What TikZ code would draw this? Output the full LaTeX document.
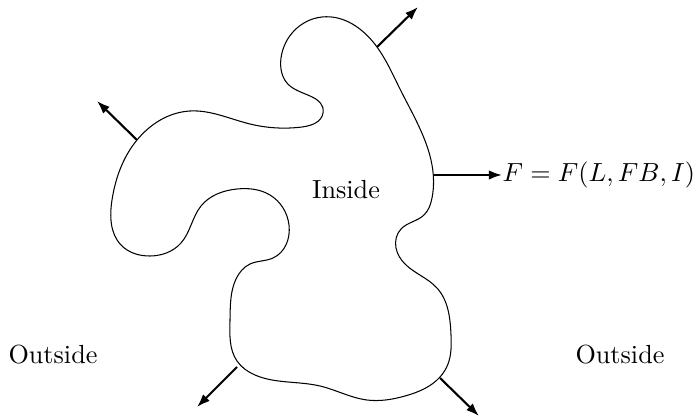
\documentclass[tikz,border=0pt]{standalone}
\usetikzlibrary{arrows.meta,hobby}
\begin{document}
\begin{tikzpicture}[x=0.382pt,y=-0.382pt,
  outline/.style={line width=0.4pt},
  normal/.style={line width=0.8pt,-{Latex[length=5pt,width=3.6pt]}},
  lbl/.style={inner sep=0pt}]
\useasboundingbox (0,0) rectangle (698,419);
\draw[outline,use Hobby shortcut,closed=true]
 (322,17) .. (377,47) .. (400,89) .. (421,131) .. (432,165) .. (432,198) .. (424,215)
 .. (401,229) .. (396,248) .. (405,264) .. (437,288) .. (451,335) .. (448,364) .. (440,377)
 .. (405,396) .. (367,400) .. (320,386) .. (255,375) .. (237,361) .. (230,320) .. (236,279)
 .. (250,264) .. (273,258) .. (289,225) .. (270,195) .. (237,189) .. (201,206)
 .. (181,243) .. (150,256) .. (121,245) .. (112,200) .. (137,140) .. (190,111) .. (250,124)
 .. (302,127) .. (323,113) .. (290,86) .. (281,58);
\coordinate (a1s) at (377,47);  \coordinate (a1e) at (418,7);
\coordinate (a2s) at (137,140); \coordinate (a2e) at (97,101);
\coordinate (a3s) at (237,367); \coordinate (a3e) at (197,407);
\coordinate (a4s) at (440,378); \coordinate (a4e) at (479,416);
\coordinate (a5s) at (434,175);
\node[lbl,anchor=west] (F) at (502,175) {$F = F(L,FB,I)$};
\node (in) at (346,190) {Inside};
\node (outl) at (53,355) {Outside};
\node (outr) at (620,355) {Outside};
\draw[normal] (a1s) -- (a1e);
\draw[normal] (a2s) -- (a2e);
\draw[normal] (a3s) -- (a3e);
\draw[normal] (a4s) -- (a4e);
\draw[normal] (a5s) -- (F.west);
\end{tikzpicture}
\end{document}
